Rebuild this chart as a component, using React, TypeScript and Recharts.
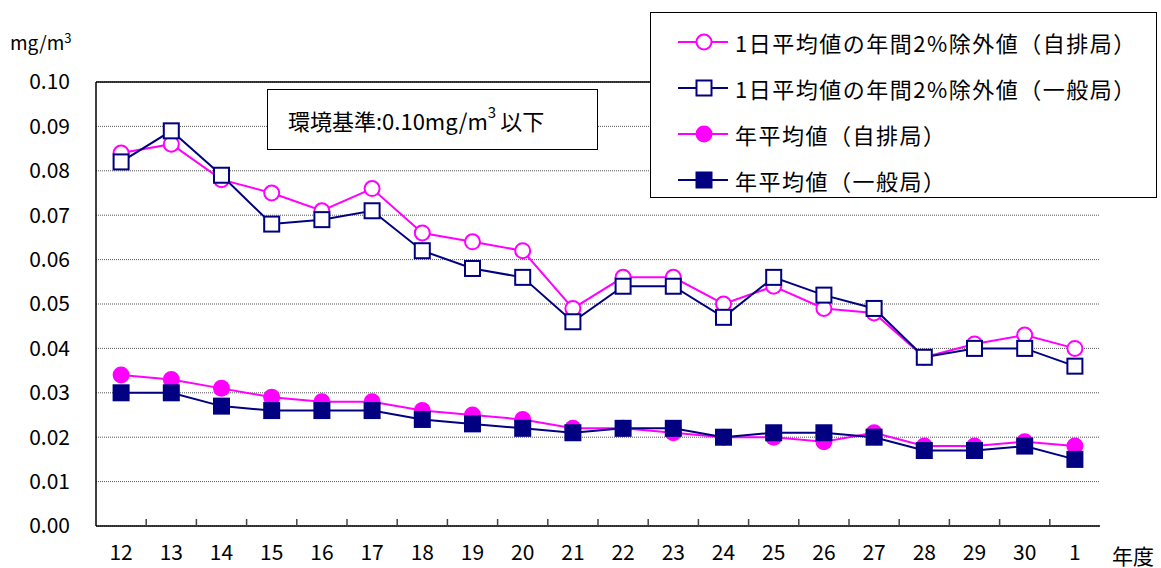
import { LineChart, Line, XAxis, YAxis, CartesianGrid, ReferenceLine } from 'recharts';

const years = ['12', '13', '14', '15', '16', '17', '18', '19', '20', '21', '22', '23', '24', '25', '26', '27', '28', '29', '30', '1'];

const dailyRoadside = [0.084, 0.086, 0.078, 0.075, 0.071, 0.076, 0.066, 0.064, 0.062, 0.049, 0.056, 0.056, 0.05, 0.054, 0.049, 0.048, 0.038, 0.041, 0.043, 0.04];
const dailyGeneral = [0.082, 0.089, 0.079, 0.068, 0.069, 0.071, 0.062, 0.058, 0.056, 0.046, 0.054, 0.054, 0.047, 0.056, 0.052, 0.049, 0.038, 0.04, 0.04, 0.036];
const annualRoadside = [0.034, 0.033, 0.031, 0.029, 0.028, 0.028, 0.026, 0.025, 0.024, 0.022, 0.022, 0.021, 0.02, 0.02, 0.019, 0.021, 0.018, 0.018, 0.019, 0.018];
const annualGeneral = [0.03, 0.03, 0.027, 0.026, 0.026, 0.026, 0.024, 0.023, 0.022, 0.021, 0.022, 0.022, 0.02, 0.021, 0.021, 0.02, 0.017, 0.017, 0.018, 0.015];

const yTicks = [0, 0.01, 0.02, 0.03, 0.04, 0.05, 0.06, 0.07, 0.08, 0.09, 0.1];

const seriesNames = [
  '1日平均値の年間2%除外値（自排局）',
  '1日平均値の年間2%除外値（一般局）',
  '年平均値（自排局）',
  '年平均値（一般局）',
];

const PINK = '#FF00FF';
const NAVY = '#000080';
const FONT = '"Noto Sans CJK JP", "Noto Sans", sans-serif';

const data = years.map((year, i) => ({
  year,
  dailyRoadside: dailyRoadside[i],
  dailyGeneral: dailyGeneral[i],
  annualRoadside: annualRoadside[i],
  annualGeneral: annualGeneral[i],
}));

type Kind = 'openCircle' | 'openSquare' | 'circle' | 'square';

const Marker = ({ kind, cx, cy }: { kind: Kind; cx: number; cy: number }) => {
  if (kind === 'openCircle')
    return <circle cx={cx} cy={cy} r={7.5} fill="#fff" stroke={PINK} strokeWidth={2} />;
  if (kind === 'circle') return <circle cx={cx} cy={cy} r={8.5} fill={PINK} />;
  if (kind === 'openSquare')
    return <rect x={cx - 7.5} y={cy - 7.5} width={15} height={15} fill="#fff" stroke={NAVY} strokeWidth={2} />;
  return <rect x={cx - 8.5} y={cy - 8.5} width={17} height={17} fill={NAVY} />;
};

const dot = (kind: Kind) => (props: any) => {
  const { cx, cy, index } = props;
  if (cx == null || cy == null) return <g key={index} />;
  return <Marker key={index} kind={kind} cx={cx} cy={cy} />;
};

// year label plus the small inward tick on the boundary to its left
const XTick = (props: any) => {
  const { x, y, payload, index } = props;
  const half = payload?.offset || 25.1;
  return (
    <g>
      {index > 0 && <line x1={x - half} y1={y} x2={x - half} y2={y - 7} stroke="#444" strokeWidth={1.5} />}
      <text x={x} y={y + 34} textAnchor="middle" fontSize={21} fill="#000" fontFamily={FONT}>
        {payload.value}
      </text>
    </g>
  );
};

const legendItems: { name: string; color: string; kind: Kind }[] = [
  { name: seriesNames[0], color: PINK, kind: 'openCircle' },
  { name: seriesNames[1], color: NAVY, kind: 'openSquare' },
  { name: seriesNames[2], color: PINK, kind: 'circle' },
  { name: seriesNames[3], color: NAVY, kind: 'square' },
];

export default function App() {
  return (
    <div style={{ position: 'absolute', left: 0, top: 0, width: 1161, height: 568, background: '#fff', fontFamily: FONT }}>
      <LineChart width={1161} height={568} data={data} margin={{ top: 82, right: 61, bottom: 12, left: 0 }}>
        <CartesianGrid vertical={false} stroke="#555" strokeDasharray="1 1" />
        <XAxis
          dataKey="year"
          scale="band"
          height={30}
          tickLine={false}
          tickSize={0}
          tickMargin={0}
          axisLine={{ stroke: '#000', strokeWidth: 1.5 }}
          tick={<XTick />}
          interval={0}
        />
        <YAxis
          domain={[0, 0.1]}
          ticks={yTicks}
          width={96}
          tickLine={false}
          tickSize={0}
          tickMargin={26}
          axisLine={{ stroke: '#000', strokeWidth: 1.5 }}
          tickFormatter={(v: number) => v.toFixed(2)}
          tick={{ fontSize: 21, fill: '#000', fontFamily: FONT }}
          interval={0}
        />
        <YAxis yAxisId="r" orientation="right" width={0} tick={false} tickLine={false} axisLine={{ stroke: '#000', strokeWidth: 1.5 }} />
        <ReferenceLine y={0.1} stroke="#000" strokeWidth={1.5} />
        <Line dataKey="dailyRoadside" stroke={PINK} strokeWidth={2} dot={dot('openCircle')} isAnimationActive={false} />
        <Line dataKey="annualRoadside" stroke={PINK} strokeWidth={2} dot={dot('circle')} isAnimationActive={false} />
        <Line dataKey="dailyGeneral" stroke={NAVY} strokeWidth={2} dot={dot('openSquare')} isAnimationActive={false} />
        <Line dataKey="annualGeneral" stroke={NAVY} strokeWidth={2} dot={dot('square')} isAnimationActive={false} />
      </LineChart>

      <div style={{ position: 'absolute', left: 10, top: 28, fontSize: 19, color: '#000' }}>
        mg/m<sup style={{ fontSize: 13, verticalAlign: 7 }}>3</sup>
      </div>

      <div style={{ position: 'absolute', left: 1112, top: 540, fontSize: 21, color: '#000' }}>年度</div>

      <div
        style={{
          position: 'absolute',
          left: 267,
          top: 89,
          width: 331,
          height: 61,
          boxSizing: 'border-box',
          border: '1.5px solid #000',
          background: '#fff',
          fontSize: 22,
          display: 'flex',
          alignItems: 'center',
          paddingLeft: 20,
          color: '#000',
          whiteSpace: 'nowrap',
        }}
      >
        環境基準:0.10mg/m<sup style={{ fontSize: 15, position: 'relative', top: -8 }}>3</sup>
        <span style={{ marginLeft: 4 }}>以下</span>
      </div>

      <div
        style={{
          position: 'absolute',
          left: 650,
          top: 12,
          width: 507,
          height: 186,
          boxSizing: 'border-box',
          border: '1.5px solid #000',
          background: '#fff',
          paddingTop: 6,
        }}
      >
        {legendItems.map((item) => (
          <div key={item.name} style={{ display: 'flex', alignItems: 'center', height: 46 }}>
            <svg width={84} height={30} style={{ flex: 'none' }}>
              <line x1={27} y1={15} x2={77} y2={15} stroke={item.color} strokeWidth={2} />
              <Marker kind={item.kind} cx={53} cy={15} />
            </svg>
            <span style={{ fontSize: 22, letterSpacing: 1.5, color: '#000', whiteSpace: 'nowrap' }}>{item.name}</span>
          </div>
        ))}
      </div>
    </div>
  );
}
